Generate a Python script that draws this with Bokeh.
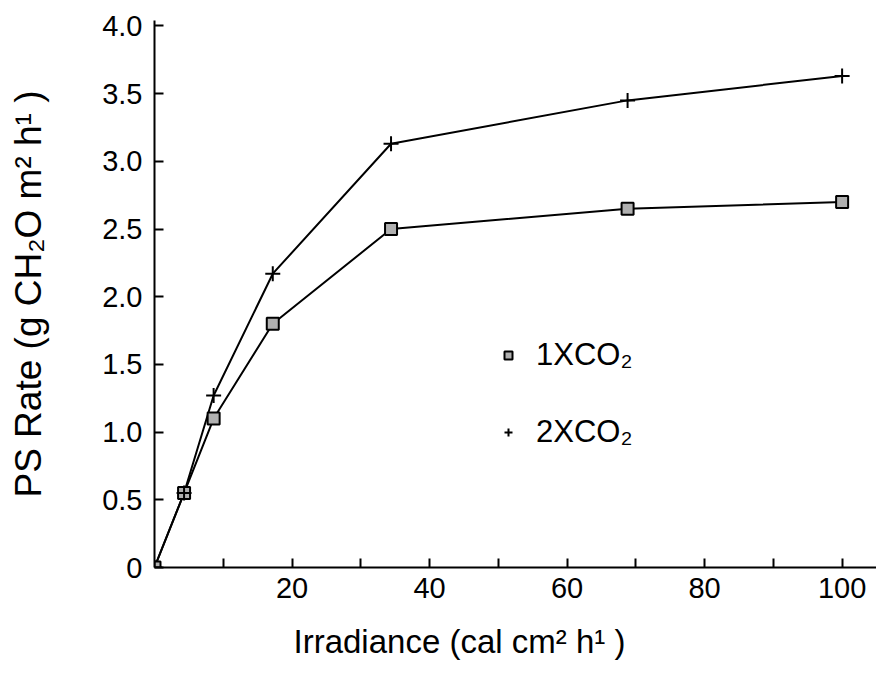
from bokeh.plotting import figure
from bokeh.models import Range1d, FixedTicker, Legend, LegendItem, Title
from bokeh.embed import file_html
from bokeh.resources import INLINE

# ---- data ----
irradiance = [0, 4.3, 8.6, 17.2, 34.4, 68.8, 100]
ps_1x = [0.0, 0.55, 1.10, 1.80, 2.50, 2.65, 2.70]
ps_2x = [0.0, 0.55, 1.27, 2.17, 3.13, 3.45, 3.63]
series_names = ["1XCO\u2082", "2XCO\u2082"]

x_ticks = [20, 40, 60, 80, 100]
x_minor = [10, 30, 50, 70, 90]
y_ticks = [0, 0.5, 1.0, 1.5, 2.0, 2.5, 3.0, 3.5, 4.0]
y_tick_labels = ["0", "0.5", "1.0", "1.5", "2.0", "2.5", "3.0", "3.5", "4.0"]
x_title = "Irradiance (cal cm\u00b2 h\u00b9 )"
y_title = "PS Rate (g CH\u2082O m\u00b2 h\u00b9 )"

FONT = "Liberation Sans"

p = figure(width=876, height=680, output_backend="svg", toolbar_location=None,
           x_range=Range1d(0, 105), y_range=Range1d(0, 4.04),
           min_border_left=154, min_border_right=0, min_border_top=20,
           min_border_bottom=113)
p.outline_line_color = None
p.xgrid.visible = False
p.ygrid.visible = False
p.background_fill_color = "white"

# axes
for ax in (p.xaxis[0], p.yaxis[0]):
    ax.axis_line_width = 2
    ax.axis_line_color = "black"
    ax.major_tick_line_width = 2
    ax.major_tick_line_color = "black"
    ax.minor_tick_line_width = 2
    ax.minor_tick_line_color = "black"
    ax.major_tick_in = 9
    ax.major_tick_out = 0
    ax.minor_tick_in = 9
    ax.minor_tick_out = 0
    ax.major_label_text_font = FONT
    ax.major_label_text_font_size = "29px"
    ax.major_label_text_color = "black"
    ax.axis_label_text_font = FONT
    ax.axis_label_text_font_style = "normal"
    ax.axis_label_text_color = "black"

p.xaxis.ticker = FixedTicker(ticks=x_ticks, minor_ticks=x_minor)
p.yaxis.ticker = FixedTicker(ticks=y_ticks, minor_ticks=[])
p.yaxis.major_label_overrides = {t: l for t, l in zip(y_ticks, y_tick_labels)}
p.xaxis.major_label_standoff = 10
p.yaxis.major_label_standoff = 12
p.yaxis.axis_label = y_title
p.yaxis.axis_label_text_font_size = "37px"
p.yaxis.axis_label_standoff = 50

xt = Title(text=x_title, align="left", offset=139, standoff=40,
           text_font=FONT, text_font_size="33px", text_font_style="normal",
           text_color="black")
p.add_layout(xt, "below")

# series
p.line(irradiance, ps_1x, line_color="black", line_width=2)
p.line(irradiance, ps_2x, line_color="black", line_width=2)
r1 = p.scatter(irradiance, ps_1x, marker="square", size=12, fill_color="#b0b0b0",
               line_color="black", line_width=2)
r2 = p.scatter(irradiance, ps_2x, marker="cross", size=15, line_color="black",
               line_width=2)

legend = Legend(items=[LegendItem(label=series_names[0], renderers=[r1]),
                       LegendItem(label=series_names[1], renderers=[r2])],
                location=(344, 117), orientation="vertical",
                glyph_width=20, glyph_height=20, label_standoff=18,
                spacing=41, padding=0, margin=0,
                border_line_alpha=0, background_fill_alpha=0,
                label_text_font=FONT, label_text_font_size="31px",
                label_text_color="black", label_height=33)
p.add_layout(legend, "center")

open("out.html", "w").write(file_html(p, INLINE))
